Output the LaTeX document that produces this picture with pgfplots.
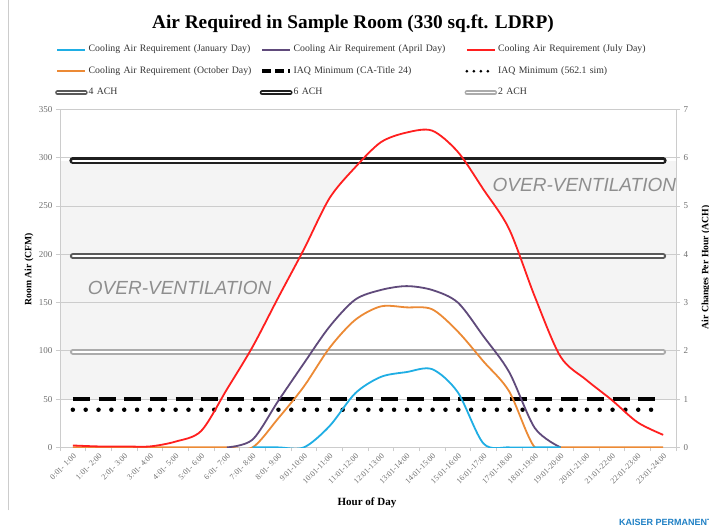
\documentclass[border=0pt]{standalone}
\usepackage{pgfplots}
\pgfplotsset{compat=1.18}
\usepackage{pgfplotstable}
\usepackage{fontspec}
\setmainfont{Liberation Serif}
\setsansfont{Liberation Sans}

\definecolor{janc}{HTML}{1FAEE4}
\definecolor{aprc}{HTML}{604A7B}
\definecolor{julc}{HTML}{FF1F1F}
\definecolor{octc}{HTML}{EC8A35}
\definecolor{bandc}{HTML}{F4F4F4}
\definecolor{gridc}{HTML}{CCCCCC}
\definecolor{tickc}{HTML}{6E6E6E}
\definecolor{ovc}{HTML}{8E8E8E}
\definecolor{kpblue}{HTML}{1F80C4}

% cooling air requirement (CFM), one row per hour slot
\pgfplotstableread{
h  jan  apr  jul  oct
0  0    0    2    0
1  0    0    1    0
2  0    0    1    0
3  0    0    1    0
4  0    0    6    0
5  0    0    17   0
6  0    0    60   0
7  0    8    104  0
8  0    48   155  30
9  0    87   205  63
10 22   125  258  103
11 56   153  290  132
12 73   163  316  146
13 78   167  326  145
14 81   163  328  143
15 57   150  306  120
16 4    115  267  89
17 0    78   226  58
18 0    20   156  0
19 0    0    94   0
20 0    0    70   0
21 0    0    49   0
22 0    0    26   0
23 0    0    13   0
}\cooling

% reference lines (CFM)
\pgfplotstableread{
h  iaq  sim  achtwo  achfour  achsix
0  50   39   99      198      297
23 50   39   99      198      297
}\refs

\tikzset{
  achtwo/.style={draw=black!33, line width=1.9pt, double=white, double distance=2pt, line cap=round},
  achfour/.style={draw=black!65, line width=2pt, double=white, double distance=2pt, line cap=round},
  achsix/.style={draw=black!88, line width=2.5pt, double=white, double distance=2pt, line cap=round},
  iaqdash/.style={black, line width=4pt, dash pattern=on 17pt off 8.7pt},
  iaqdot/.style={black, line width=4.5pt, line cap=round, dash pattern=on 0pt off 12.85pt},
  cool/.style={#1, line width=1.8pt},
}

\begin{document}
\begin{tikzpicture}
\draw[gridc, line width=0.8pt] (-52pt,-63pt) -- (-52pt,447pt);

\begin{axis}[
  set layers,
  scale only axis, width=616pt, height=338pt,
  xmin=-0.5, xmax=23.5, ymin=0, ymax=350,
  ytick={0,50,...,350}, ymajorgrids,
  grid style={gridc, line width=0.8pt},
  ytick pos=left, xtick pos=bottom,
  axis line style={gridc, line width=0.8pt},
  tick align=outside, major tick length=4pt, minor tick length=4pt,
  tick style={gridc, line width=0.8pt},
  major x tick style={draw=none},
  xtick={0,...,23}, minor xtick={-0.5,0.5,...,23.5},
  xticklabels={0:01- 1:00,1:01- 2:00,2:01- 3:00,3:01- 4:00,4:01- 5:00,5:01- 6:00,
    6:01- 7:00,7:01- 8:00,8:01- 9:00,9:01-10:00,10:01-11:00,11:01-12:00,
    12:01-13:00,13:01-14:00,14:01-15:00,15:01-16:00,16:01-17:00,17:01-18:00,
    18:01-19:00,19:01-20:00,20:01-21:00,21:01-22:00,22:01-23:00,23:01-24:00},
  xticklabel style={rotate=45, anchor=north east, font=\fontsize{8}{9}\selectfont, text=tickc, inner sep=1pt},
  yticklabel style={font=\fontsize{9}{10}\selectfont, text=tickc},
  /pgf/number format/assume math mode=true,
  legend columns=3,
  legend image code/.code={\draw[#1] (0pt,0pt) -- (28pt,0pt);},
  legend style={draw=none, fill=none, at={(-0.013,1.20)}, anchor=north west,
    font=\fontsize{9.8}{10}\selectfont, text=black!80, row sep=10pt, column sep=0pt,
    nodes={inner sep=1pt, text height=7pt, text depth=2.5pt},
    /tikz/every even column/.append style={text width=170pt}},
]
% shaded over-ventilation zone, cleared under the July curve
\addplot[draw=none, fill=bandc, forget plot, on layer=axis background]
  coordinates {(-0.5,50) (23.5,50) (23.5,297) (-0.5,297)};
\addplot[draw=none, fill=white, smooth, forget plot, on layer=axis background]
  table[x=h, y=jul]{\cooling} \closedcycle;

\addplot[achfour, forget plot] table[x=h, y=achfour]{\refs};
\addplot[achsix, forget plot] table[x=h, y=achsix]{\refs};
\addplot[achtwo, forget plot] table[x=h, y=achtwo]{\refs};
\addplot[iaqdash, forget plot] table[x=h, y=iaq]{\refs};
\addplot[iaqdot, forget plot] table[x=h, y=sim]{\refs};

\addplot[cool=octc, smooth, forget plot] table[x=h, y=oct]{\cooling};
\addplot[cool=aprc, smooth, forget plot, restrict x to domain=6:19] table[x=h, y=apr]{\cooling};
\addplot[cool=janc, smooth, forget plot, restrict x to domain=7:19] table[x=h, y=jan]{\cooling};
\addplot[cool=julc, smooth, forget plot] table[x=h, y=jul]{\cooling};

\addlegendimage{cool=janc}
\addlegendentry{Cooling Air Requirement (January Day)}
\addlegendimage{cool=aprc}
\addlegendentry{Cooling Air Requirement (April Day)}
\addlegendimage{cool=julc}
\addlegendentry{Cooling Air Requirement (July Day)}
\addlegendimage{cool=octc}
\addlegendentry{Cooling Air Requirement (October Day)}
\addlegendimage{black, line width=3.5pt, dash pattern=on 9pt off 4pt}
\addlegendentry{IAQ Minimum (CA-Title 24)}
\addlegendimage{black, line width=3pt, line cap=round, dash pattern=on 0pt off 7pt}
\addlegendentry{IAQ Minimum (562.1 sim)}
\addlegendimage{achfour, line width=1.5pt, double distance=1.5pt}
\addlegendentry{4 ACH}
\addlegendimage{achsix, line width=1.7pt, double distance=1.5pt}
\addlegendentry{6 ACH}
\addlegendimage{achtwo, line width=1.5pt, double distance=1.5pt}
\addlegendentry{2 ACH}

\node[font=\sffamily\itshape\fontsize{19}{20}\selectfont, text=ovc, anchor=west, inner sep=0pt]
  at (axis cs:0.58,165) {OVER-VENTILATION};
\node[font=\sffamily\itshape\fontsize{19}{20}\selectfont, text=ovc, anchor=west, inner sep=0pt]
  at (axis cs:16.35,272) {OVER-VENTILATION};
\end{axis}

\begin{axis}[
  scale only axis, width=616pt, height=338pt,
  xmin=-0.5, xmax=23.5, ymin=0, ymax=7,
  axis y line*=right, axis x line=none,
  ytick={0,...,7},
  axis line style={gridc, line width=0.8pt},
  tick align=outside, major tick length=4pt,
  tick style={gridc, line width=0.8pt},
  yticklabel style={font=\fontsize{9}{10}\selectfont, text=tickc},
  /pgf/number format/assume math mode=true,
]
\addplot[draw=none] coordinates {(0,0) (23,7)};
\end{axis}

\node[font=\bfseries\fontsize{19.3}{22}\selectfont] at (293pt,424pt)
  {Air Required in Sample Room (330 sq.ft. LDRP)};
\node[font=\bfseries\fontsize{9.7}{10}\selectfont, rotate=90] at (-31pt,178pt) {Room Air (CFM)};
\node[font=\bfseries\fontsize{11}{12}\selectfont] at (307pt,-55pt) {Hour of Day};

\useasboundingbox (-60pt,-84pt) rectangle (649pt,447pt);
\begin{scope}
\clip (-60pt,-84pt) rectangle (649pt,447pt);
\node[font=\bfseries\fontsize{9.7}{10}\selectfont, rotate=90] at (646pt,180pt) {Air Changes Per Hour (ACH)};
\node[font=\sffamily\bfseries\fontsize{9}{10}\selectfont, text=kpblue, anchor=west, inner sep=0pt]
  at (559pt,-75pt) {KAISER PERMANENTE};
\end{scope}
\end{tikzpicture}
\end{document}
